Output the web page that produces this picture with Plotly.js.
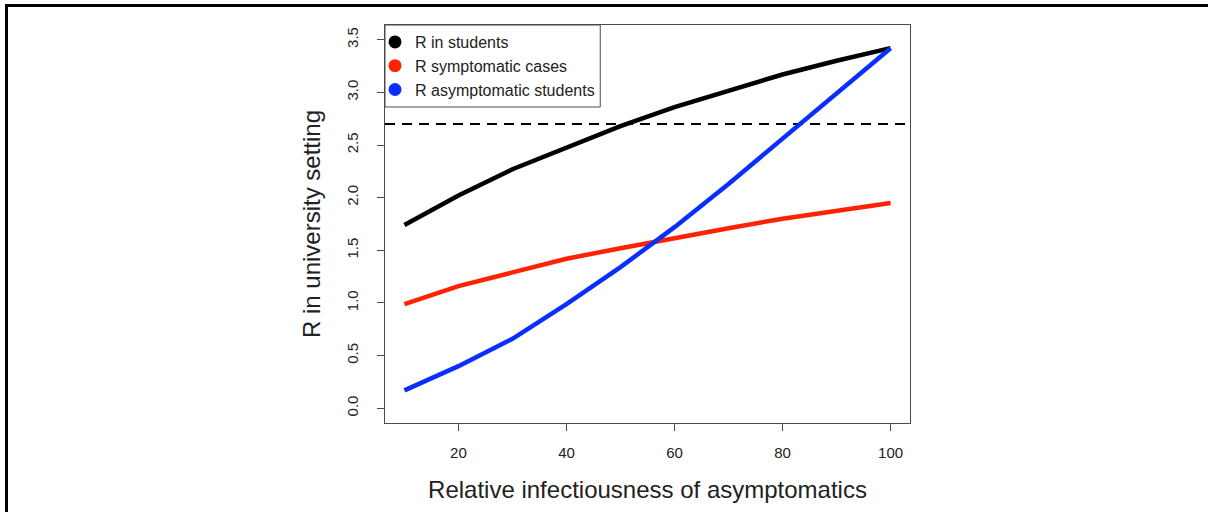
<!DOCTYPE html>
<html>
<head>
<meta charset="utf-8">
<script src="https://cdn.plot.ly/plotly-3.0.1.min.js"></script>
<style>
  html, body { margin: 0; padding: 0; background: #fff; }
  #wrap { position: relative; width: 1208px; height: 512px; overflow: hidden; }
  #chart { width: 1208px; height: 512px; }
  #frame {
    position: absolute; top: 4px; left: 5px; right: 0; bottom: 0;
    border-top: 3px solid #000; border-left: 3px solid #000;
    pointer-events: none;
  }
</style>
</head>
<body>
<div id="wrap">
  <div id="chart"></div>
  <div id="frame"></div>
</div>
<script>
(function () {
    'use strict';

    // Relative infectiousness of asymptomatics (%)
    const infectiousness = [10, 20, 30, 40, 50, 60, 70, 80, 90, 100];

    // R values
    const rStudents = [1.74, 2.02, 2.27, 2.48, 2.68, 2.86, 3.02, 3.17, 3.30, 3.42];
    const rSymptomatic = [0.99, 1.16, 1.29, 1.42, 1.52, 1.62, 1.71, 1.80, 1.88, 1.95];
    const rAsymptomatic = [0.17, 0.40, 0.66, 0.99, 1.34, 1.72, 2.13, 2.56, 2.99, 3.42];

    const seriesNames = ['R in students', 'R symptomatic cases', 'R asymptomatic students'];

    // Reference level drawn as a dashed horizontal line
    const thresholdR = 2.7;

    const xTicks = [20, 40, 60, 80, 100];
    const yTicks = [0, 0.5, 1, 1.5, 2, 2.5, 3, 3.5];
    const yTickText = ['0.0', '0.5', '1.0', '1.5', '2.0', '2.5', '3.0', '3.5'];

    const COLORS = {
        students: '#000000',
        symptomatic: '#ff2200',
        asymptomatic: '#0a2eff',
        axis: '#4a4a4a',
        text: '#222222'
    };

    const FONT = 'Liberation Sans, Arial, Helvetica, sans-serif';
    const seriesY = [rStudents, rSymptomatic, rAsymptomatic];
    const seriesColors = [COLORS.students, COLORS.symptomatic, COLORS.asymptomatic];

    // Lines (no legend entries; legend shows filled dots instead)
    const lineTraces = seriesY.map((ys, i) => ({
        x: infectiousness,
        y: ys,
        type: 'scatter',
        mode: 'lines',
        line: { color: seriesColors[i], width: 4.5 },
        showlegend: false,
        hoverinfo: 'skip'
    }));

    // Legend-only traces, circles like R's pch = 16
    const legendTraces = seriesNames.map((name, i) => ({
        x: [null],
        y: [null],
        type: 'scatter',
        mode: 'markers',
        name: name,
        marker: { color: seriesColors[i], size: 13, symbol: 'circle' },
        showlegend: true
    }));

    const axisCommon = {
        showgrid: false,
        zeroline: false,
        showline: true,
        mirror: true,
        linecolor: COLORS.axis,
        linewidth: 1,
        ticks: 'outside',
        ticklen: 7,
        tickwidth: 1,
        tickcolor: COLORS.axis,
        tickfont: { family: FONT, size: 15, color: COLORS.text },
        automargin: false,
        fixedrange: true
    };

    const layout = {
        width: 1208,
        height: 512,
        paper_bgcolor: 'rgba(0,0,0,0)',
        plot_bgcolor: '#fff',
        margin: { l: 385, r: 298, t: 25, b: 89 },
        font: { family: FONT, color: COLORS.text },
        xaxis: {
            ...axisCommon,
            range: [6.4, 103.6],
            tickmode: 'array',
            tickvals: xTicks,
            ticklabelstandoff: 9,
            title: {
                text: 'Relative infectiousness of asymptomatics',
                font: { family: FONT, size: 24, color: COLORS.text },
                standoff: 21
            }
        },
        yaxis: {
            ...axisCommon,
            range: [-0.14, 3.64],
            tickmode: 'array',
            tickvals: yTicks,
            ticktext: yTickText,
            tickangle: -90,
            ticklabelstandoff: 13,
            title: {
                text: 'R in university setting',
                font: { family: FONT, size: 24, color: COLORS.text },
                standoff: 16
            }
        },
        showlegend: true,
        legend: {
            x: -0.019,
            y: 1,
            xanchor: 'left',
            yanchor: 'top',
            bgcolor: 'rgba(0,0,0,0)',
            borderwidth: 0,
            font: { family: FONT, size: 16, color: COLORS.text },
            itemwidth: 30,
            tracegroupgap: 0
        },
        shapes: [
            {
                type: 'line',
                xref: 'paper',
                yref: 'y',
                x0: 0,
                x1: 1,
                y0: thresholdR,
                y1: thresholdR,
                line: { color: '#000', width: 2, dash: '10px,7px' },
                layer: 'below'
            },
            // legend frame, as R's legend() box
            {
                type: 'rect',
                xref: 'paper',
                yref: 'paper',
                x0: 0,
                x1: 0.41,
                y0: 0.794,
                y1: 1,
                fillcolor: '#fff',
                line: { color: COLORS.axis, width: 1 },
                layer: 'above'
            }
        ]
    };

    Plotly.newPlot('chart', [...lineTraces, ...legendTraces], layout, {
        displayModeBar: false,
        staticPlot: true
    });
})();
</script>
</body>
</html>
